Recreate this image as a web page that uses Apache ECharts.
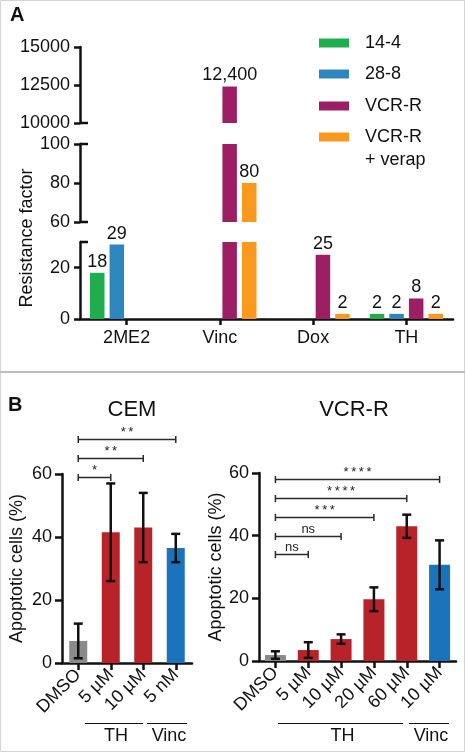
<!DOCTYPE html>
<html><head><meta charset="utf-8">
<script src="https://cdn.jsdelivr.net/npm/echarts@6/dist/echarts.min.js"></script>
<style>html,body{margin:0;padding:0;background:#fff}#c{width:465px;height:752px}</style>
</head><body><div id="c"></div>
<script>
// ---------- Panel A data ----------
const drugs = ['2ME2', 'Vinc', 'Dox', 'TH'];
const lineNames = ['14-4', '28-8', 'VCR-R', 'VCR-R\n+ verap'];
const rf_14_4 = [18, null, null, 2];
const rf_28_8 = [29, null, null, 2];
const rf_vcrr = [null, 12400, 25, 8];
const rf_vcrr_verap = [null, 80, 2, 2];
// axis segments of the broken y axis [min, max]
const segTop = [10000, 15000];
const segMid = [60, 100];
const segLow = [0, 30];
const lowTicks = [0, 20];

// ---------- Panel B data ----------
const cemCats = ['DMSO', '5 µM', '10 µM', '5 nM'];
const cemMean = [7, 41.5, 43, 36.5];
const cemErr = [5.5, 15.5, 11, 4.5];
const cemSigFrom = [0, 0, 0];
const cemSigTo = [1, 2, 3];
const cemSigY = [59, 65, 71];
const cemSigText = ['*', '**', '**'];

const vcrCats = ['DMSO', '5 µM', '10 µM', '20 µM', '60 µM', '10 µM'];
const vcrMean = [1.9, 3.5, 7, 19.7, 43, 30.7];
const vcrErr = [1.2, 2.5, 1.5, 3.8, 3.7, 7.8];
const vcrSigFrom = [0, 0, 0, 0, 0];
const vcrSigTo = [1, 2, 3, 4, 5];
const vcrSigY = [34, 40, 46, 52, 58];
const vcrSigText = ['ns', 'ns', '***', '****', '****'];

// ---------- styles ----------
const FONT = '"Liberation Sans", Arial, Helvetica, sans-serif';
const INK = '#111';
const lineColors = ['#1fae4e', '#2f86be', '#9b1f62', '#f99a1e'];
const cemColors = ['#8a8a8a', '#b8232a', '#b8232a', '#1b74bb'];
const vcrColors = ['#8a8a8a', '#b8232a', '#b8232a', '#b8232a', '#b8232a', '#1b74bb'];

const chart = echarts.init(document.getElementById('c'), null, {renderer: 'canvas'});

const gridsA = [
  {left: 80, top: 47, width: 373, height: 76},
  {left: 80, top: 144, width: 373, height: 78},
  {left: 80, top: 242, width: 373, height: 77}
];
const gridCEM = {left: 62, top: 474, width: 130, height: 189};
const gridVCR = {left: 259, top: 473, width: 197, height: 188};

function fmtNum(v) { return Number(v).toLocaleString('en-US'); }
function rangeFormatter(seg) {
  return function (p) {
    const v = p.value;
    if (v == null || isNaN(v)) return '';
    return (v >= seg[0] && v <= seg[1]) ? fmtNum(v) : '';
  };
}
function plain(v) { return String(v); }

const axisLineStyle = {show: true, lineStyle: {color: INK, width: 2.5}};
const labelStyle = {color: INK, fontSize: 18, fontFamily: FONT};

const xAxes = [];
const yAxes = [];
const segs = [segTop, segMid, segLow];
const segIntervals = [2500, 20, 10];
for (let k = 0; k < 3; k++) {
  xAxes.push({
    type: 'category', gridIndex: k, data: drugs, show: k === 2,
    axisLine: {show: true, lineStyle: {color: INK, width: 2.5}},
    axisTick: {show: true, alignWithLabel: true, length: 6, lineStyle: {color: INK, width: 2.5}},
    axisLabel: Object.assign({margin: 10, interval: 0}, labelStyle)
  });
  const y = {
    type: 'value', gridIndex: k, min: segs[k][0], max: segs[k][1], interval: segIntervals[k],
    axisLine: axisLineStyle,
    axisTick: {show: true, length: 6, lineStyle: {color: INK, width: 2.5}},
    axisLabel: Object.assign({margin: 10, formatter: plain}, labelStyle),
    splitLine: {show: false}
  };
  if (k === 2) {
    y.axisTick.customValues = lowTicks;
    y.axisLabel.customValues = lowTicks;
  }
  yAxes.push(y);
}
// Panel B axes
[[gridCEM, cemCats], [gridVCR, vcrCats]].forEach(function (g, i) {
  xAxes.push({
    type: 'category', gridIndex: 3 + i, data: g[1],
    axisLine: {show: true, lineStyle: {color: INK, width: 2.5}},
    axisTick: {show: true, alignWithLabel: true, length: 7, lineStyle: {color: INK, width: 2.5}},
    axisLabel: Object.assign({margin: 9, interval: 0, rotate: 45}, labelStyle)
  });
  yAxes.push({
    type: 'value', gridIndex: 3 + i, min: 0, max: 60, interval: 20,
    name: 'Apoptotic cells (%)', nameLocation: 'middle', nameGap: i === 0 ? 36 : 32,
    nameTextStyle: {color: INK, fontSize: 18, fontFamily: FONT},
    axisLine: axisLineStyle,
    axisTick: {show: true, length: 7, lineStyle: {color: INK, width: 2.5}},
    axisLabel: Object.assign({margin: 10, formatter: plain}, labelStyle),
    splitLine: {show: false}
  });
});

const series = [];
const rfArrays = [rf_14_4, rf_28_8, rf_vcrr, rf_vcrr_verap];
for (let k = 0; k < 3; k++) {
  rfArrays.forEach(function (arr, j) {
    series.push({
      type: 'bar', name: lineNames[j], xAxisIndex: k, yAxisIndex: k,
      data: arr, barWidth: 14.5, barGap: '35%', clip: true,
      itemStyle: {color: lineColors[j]},
      label: {show: true, position: 'top', distance: 2, color: INK, fontSize: 18, fontFamily: FONT,
        formatter: rangeFormatter(segs[k])},
      silent: true, animation: false
    });
  });
}

function errRender(params, api) {
  const x = api.value(0);
  const lo = api.coord([x, api.value(1)]);
  const hi = api.coord([x, api.value(2)]);
  const hw = 4.5;
  const st = {stroke: INK, lineWidth: 2.5};
  return {type: 'group', children: [
    {type: 'line', shape: {x1: lo[0], y1: lo[1], x2: hi[0], y2: hi[1]}, style: st},
    {type: 'line', shape: {x1: lo[0] - hw, y1: lo[1], x2: lo[0] + hw, y2: lo[1]}, style: st},
    {type: 'line', shape: {x1: hi[0] - hw, y1: hi[1], x2: hi[0] + hw, y2: hi[1]}, style: st}
  ]};
}
function bracketRender(texts) {
  return function (params, api) {
    const a = api.coord([api.value(0), api.value(2)]);
    const b = api.coord([api.value(1), api.value(2)]);
    const y = Math.round(a[1]) + 0.5;
    const st = {stroke: '#2a2a2a', lineWidth: 1.5};
    let t = texts[params.dataIndex];
    if (t.indexOf('*') >= 0) t = t.split('').join('\u2009');
    return {type: 'group', children: [
      {type: 'line', shape: {x1: a[0], y1: y, x2: b[0], y2: y}, style: st},
      {type: 'line', shape: {x1: a[0], y1: y - 3.5, x2: a[0], y2: y + 3.5}, style: st},
      {type: 'line', shape: {x1: b[0], y1: y - 3.5, x2: b[0], y2: y + 3.5}, style: st},
      {type: 'text', x: (a[0] + b[0]) / 2, y: y - 1,
        style: {text: t, fill: '#222', font: '13px ' + FONT, align: 'center', verticalAlign: 'bottom'}}
    ]};
  };
}

[[cemMean, cemErr, cemColors, 18, cemSigFrom, cemSigTo, cemSigY, cemSigText],
 [vcrMean, vcrErr, vcrColors, 21, vcrSigFrom, vcrSigTo, vcrSigY, vcrSigText]].forEach(function (d, i) {
  const ax = 3 + i;
  series.push({
    type: 'bar', xAxisIndex: ax, yAxisIndex: ax, barWidth: d[3],
    data: d[0].map(function (v, n) { return {value: v, itemStyle: {color: d[2][n]}}; }),
    silent: true, animation: false
  });
  series.push({
    type: 'custom', xAxisIndex: ax, yAxisIndex: ax, renderItem: errRender, z: 5,
    encode: {x: 0, y: [1, 2]},
    data: d[0].map(function (v, n) { return [n, v - d[1][n], v + d[1][n]]; }),
    silent: true, animation: false
  });
  series.push({
    type: 'custom', xAxisIndex: ax, yAxisIndex: ax, renderItem: bracketRender(d[7]), z: 6, clip: false,
    encode: {x: [0, 1], y: 2},
    data: d[4].map(function (f, n) { return [f, d[5][n], d[6][n]]; }),
    silent: true, animation: false
  });
});

// ---------- decorations ----------
const graphic = [];
// frame
graphic.push({type: 'rect', shape: {x: 0.5, y: 0.5, width: 464, height: 751},
  style: {fill: null, stroke: '#d4d4d4', lineWidth: 1}, z: 100});
graphic.push({type: 'line', shape: {x1: 0, y1: 372, x2: 465, y2: 372},
  style: {stroke: '#bdbdbd', lineWidth: 2}, z: 100});
// panel letters
graphic.push({type: 'text', x: 10, y: 15, style: {text: 'A', font: 'bold 20px ' + FONT, fill: INK, verticalAlign: 'middle'}});
graphic.push({type: 'text', x: 8, y: 405, style: {text: 'B', font: 'bold 20px ' + FONT, fill: INK, verticalAlign: 'middle'}});
// axis name for panel A
graphic.push({type: 'text', x: 27, y: 238, rotation: Math.PI / 2,
  style: {text: 'Resistance factor', font: '18px ' + FONT, fill: INK, align: 'center', verticalAlign: 'middle'}});
// broken-axis caps
[gridsA[0].top + gridsA[0].height, gridsA[1].top, gridsA[1].top + gridsA[1].height, gridsA[2].top].forEach(function (y) {
  graphic.push({type: 'line', shape: {x1: 80, y1: y, x2: 88, y2: y}, style: {stroke: INK, lineWidth: 2.5}});
});
// legend
const legendRows = [43, 74, 106, 137];
lineNames.forEach(function (n, i) {
  graphic.push({type: 'rect', shape: {x: 319, y: legendRows[i] - 4.5, width: 30, height: 9}, style: {fill: lineColors[i]}});
  graphic.push({type: 'text', x: 365, y: legendRows[i] - 11,
    style: {text: n, font: '18px ' + FONT, fill: INK, verticalAlign: 'top', lineHeight: 23}});
});
// panel B titles
graphic.push({type: 'text', x: 132, y: 410, style: {text: 'CEM', font: '22px ' + FONT, fill: INK, align: 'center', verticalAlign: 'middle'}});
graphic.push({type: 'text', x: 354, y: 410, style: {text: 'VCR-R', font: '22px ' + FONT, fill: INK, align: 'center', verticalAlign: 'middle'}});
// group lines under panel B
const groups = [
  {x1: 85, x2: 143, t: 'TH'}, {x1: 147, x2: 187, t: 'Vinc'},
  {x1: 278, x2: 403, t: 'TH'}, {x1: 409, x2: 449, t: 'Vinc'}
];
groups.forEach(function (g) {
  graphic.push({type: 'line', shape: {x1: g.x1, y1: 723.5, x2: g.x2, y2: 723.5}, style: {stroke: INK, lineWidth: 1}});
  graphic.push({type: 'text', x: (g.x1 + g.x2) / 2 + 2, y: 736,
    style: {text: g.t, font: '18px ' + FONT, fill: INK, align: 'center', verticalAlign: 'middle'}});
});

chart.setOption({
  animation: false,
  backgroundColor: '#ffffff',
  textStyle: {fontFamily: FONT},
  grid: gridsA.concat([gridCEM, gridVCR]),
  xAxis: xAxes,
  yAxis: yAxes,
  series: series,
  graphic: graphic
});
</script>
</body></html>
